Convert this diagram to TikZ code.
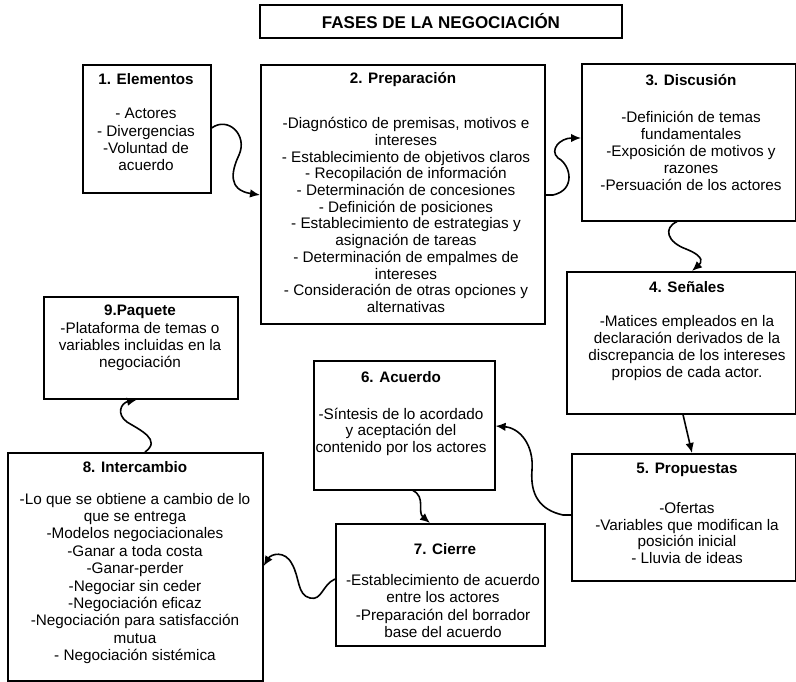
\documentclass[tikz,border=0pt]{standalone}
\usepackage{fontspec}
\setmainfont{Liberation Sans}
\usetikzlibrary{arrows.meta}
\begin{document}
\begin{tikzpicture}[x=1pt,y=-1pt,
  box/.style={draw, line width=1.6pt, inner sep=0pt, anchor=north west},
  hd/.style={font=\fontsize{15.2}{17.4}\selectfont\bfseries, align=center, inner sep=0pt},
  bd/.style={font=\fontsize{15.3}{17.2}\selectfont, align=center, inner sep=0pt},
  conn/.style={line width=1.6pt, -{Latex[length=10pt,width=8.5pt]}}]
\useasboundingbox (0,0) rectangle (796,682);

% title
\node[draw, line width=1.6pt, minimum width=362pt, minimum height=33pt,
      font=\fontsize{17}{20}\selectfont\bfseries] (title) at (441,21.5) {FASES DE LA NEGOCIACIÓN};

% boxes
\node[box, minimum width=128pt, minimum height=128pt] (b1) at (82,64) {};
\node[box, minimum width=284pt, minimum height=259pt] (b2) at (260,64) {};
\node[box, minimum width=214pt, minimum height=157pt] (b3) at (581,63) {};
\node[box, minimum width=229pt, minimum height=142pt] (b4) at (566,271) {};
\node[box, minimum width=224pt, minimum height=127pt] (b5) at (571,453) {};
\node[box, minimum width=181pt, minimum height=129pt] (b6) at (313,360) {};
\node[box, minimum width=209pt, minimum height=122pt] (b7) at (335,523) {};
\node[box, minimum width=255pt, minimum height=228pt] (b8) at (7,452) {};
\node[box, minimum width=194pt, minimum height=102pt] (b9) at (43,296) {};

% texts
\node[hd] (h1) at (146,79) {1. Elementos};
\node[bd] (t1) at (146,139.5) {- Actores\\- Divergencias\\-Voluntad de\\acuerdo};

\node[hd] (h2) at (403,80) {2. Preparación};
\node[bd, font=\fontsize{15.3}{16.7}\selectfont] (t2) at (406,215) {-Diagnóstico de premisas, motivos e\\intereses\\- Establecimiento de objetivos claros\\- Recopilación de información\\- Determinación de concesiones\\- Definición de posiciones\\- Establecimiento de estrategias y\\asignación de tareas\\- Determinación de empalmes de\\intereses\\- Consideración de otras opciones y\\alternativas};

\node[hd] (h3) at (691,80) {3. Discusión};
\node[bd] (t3) at (691,151) {-Definición de temas\\fundamentales\\-Exposición de motivos y\\razones\\-Persuación de los actores};

\node[hd] (h4) at (687,287) {4. Señales};
\node[bd, font=\fontsize{15.3}{16.7}\selectfont] (t4) at (687,348) {-Matices empleados en la\\declaración derivados de la\\discrepancia de los intereses\\propios de cada actor.};

\node[hd] (h5) at (687,470) {5. Propuestas};
\node[bd, font=\fontsize{15.3}{16.7}\selectfont] (t5) at (687,533) {-Ofertas\\-Variables que modifican la\\posición inicial\\- Lluvia de ideas};

\node[hd] (h6) at (401,377) {6. Acuerdo};
\node[bd, font=\fontsize{15.3}{16.5}\selectfont] (t6) at (401,431.5) {-Síntesis de lo acordado\\y aceptación del\\contenido por los actores};

\node[hd] (h7) at (445,549) {7. Cierre};
\node[bd] (t7) at (443,606) {-Establecimiento de acuerdo\\entre los actores\\-Preparación del borrador\\base del acuerdo};

\node[hd] (h8) at (135,467) {8. Intercambio};
\node[bd, font=\fontsize{15.3}{17.4}\selectfont] (t8) at (135,578.5) {-Lo que se obtiene a cambio de lo\\que se entrega\\-Modelos negociacionales\\-Ganar a toda costa\\-Ganar-perder\\-Negociar sin ceder\\-Negociación eficaz\\-Negociación para satisfacción\\mutua\\- Negociación sistémica};

\node[hd] (h9) at (140,312) {9.Paquete};
\node[bd] (t9) at (140,346.5) {-Plataforma de temas o\\variables incluidas en la\\negociación};

% connectors
\draw[conn] ([yshift=-64pt]b1.north east) .. controls (228,116) and (248,135) .. (239,155)
  .. controls (231,172) and (228,190) .. ([yshift=-131pt]b2.north west);
\draw[conn] ([yshift=-131pt]b2.north east) -- (553,195) .. controls (576,190) and (571,165) .. (558,158)
  .. controls (549,150) and (560,138) .. ([yshift=-75pt]b3.north west);
\draw[conn] ([xshift=96pt]b3.south west) .. controls (663,228) and (667,242) .. (686,249)
  .. controls (706,257) and (701,263) .. ([xshift=126pt]b4.north west);
\draw[conn] ([xshift=117pt]b4.south west) -- ([xshift=121pt]b5.north west);
\draw[conn] ([yshift=-62pt]b5.north west) -- (563,515) .. controls (540,510) and (530,495) .. (532,470)
  .. controls (534,445) and (520,428) .. ([yshift=-66pt]b6.north east);
\draw[conn] ([xshift=100pt]b6.south west) .. controls (426,497) and (417,512) .. ([xshift=95pt]b7.north west);
\draw[conn] ([yshift=-56pt]b7.north west) .. controls (322,585) and (322,601) .. (310,598)
  .. controls (297,595) and (300,578) .. (292,564) .. controls (285,550) and (271,554) .. ([yshift=-114pt]b8.north east);
\draw[conn] ([xshift=138pt]b8.north west) .. controls (162,440) and (140,430) .. (127,422)
  .. controls (116,414) and (121,403) .. ([xshift=94pt]b9.south west);
\end{tikzpicture}
\end{document}
